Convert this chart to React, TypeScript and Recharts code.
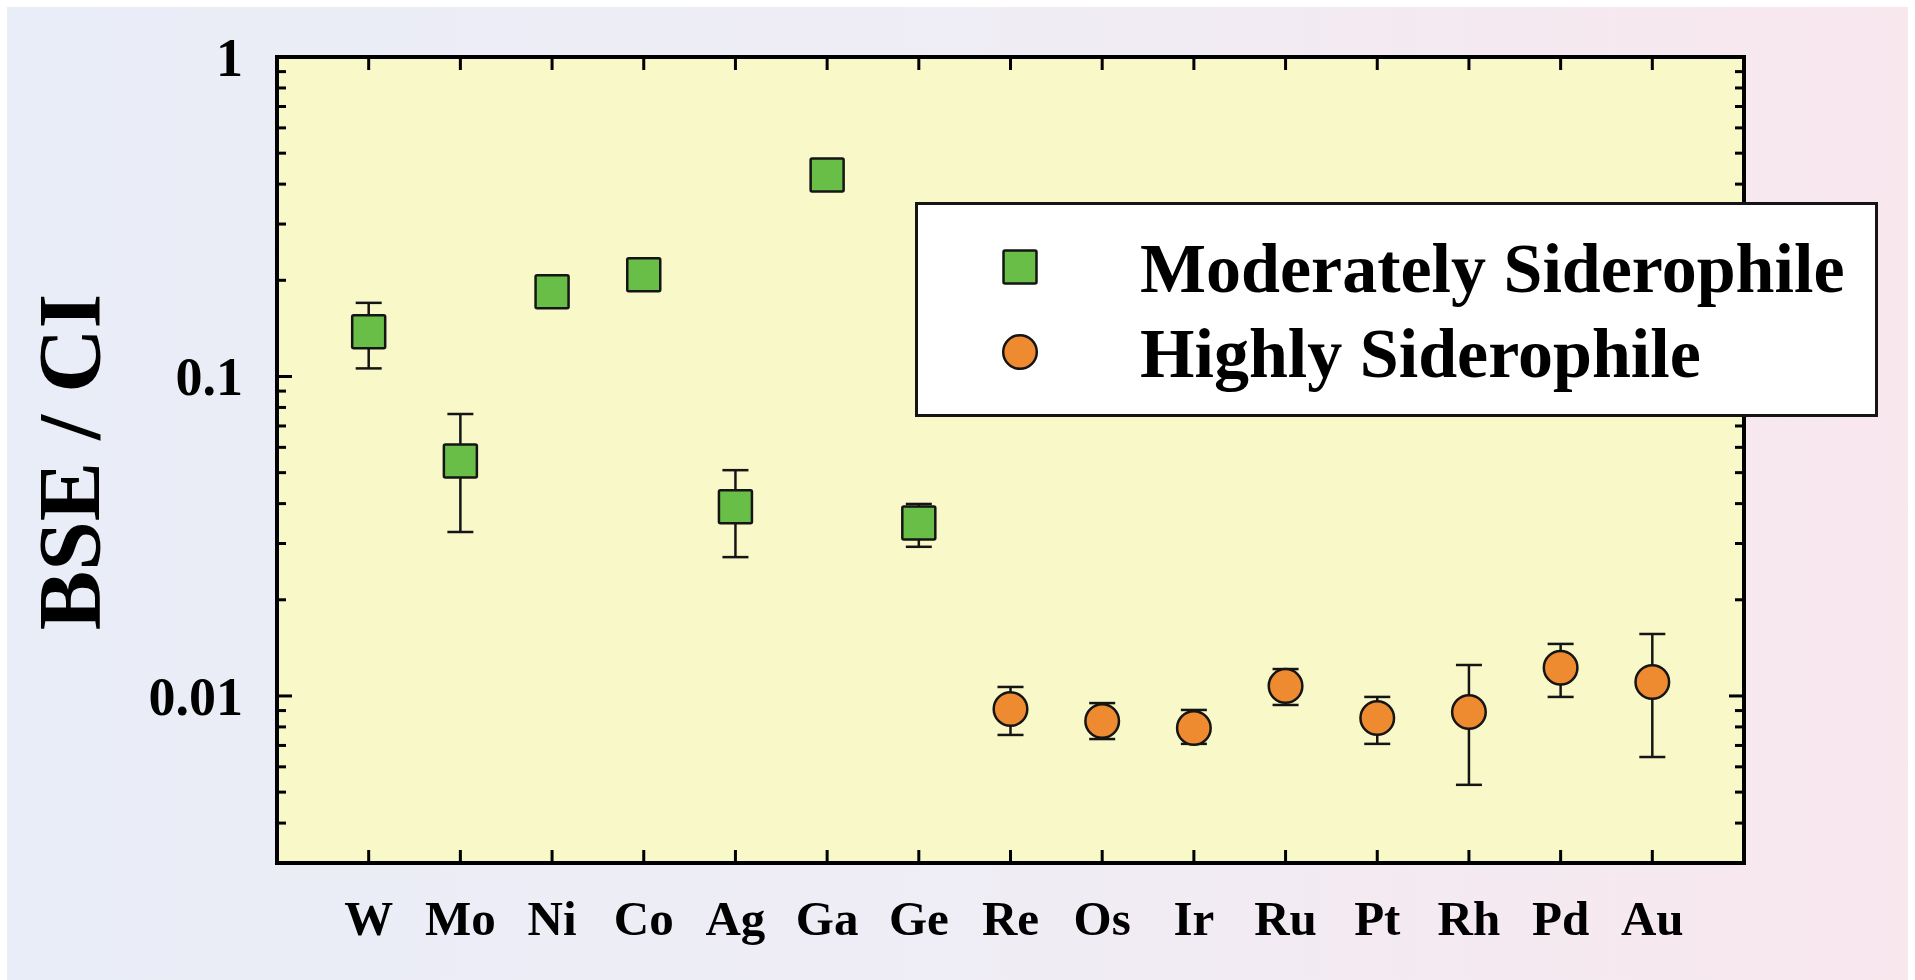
import React from 'react';
import {
    ScatterChart,
    Scatter,
    XAxis,
    YAxis,
    ErrorBar,
    CartesianGrid,
    ReferenceArea,
    Legend
} from 'recharts';

// element order on the x axis
const ELEMENTS = ['W', 'Mo', 'Ni', 'Co', 'Ag', 'Ga', 'Ge', 'Re', 'Os', 'Ir', 'Ru', 'Pt', 'Rh', 'Pd', 'Au'];

// moderately siderophile (W..Ge)
const MODERATE_VALUES = [0.138, 0.0544, 0.184, 0.208, 0.0391, 0.427, 0.0348];
const MODERATE_LOW = [0.106, 0.0326, 0.184, 0.208, 0.0272, 0.427, 0.0293];
const MODERATE_HIGH = [0.170, 0.0763, 0.184, 0.208, 0.0509, 0.427, 0.0399];

// highly siderophile (Re..Au)
const HIGHLY_VALUES = [0.0091, 0.00835, 0.00794, 0.01075, 0.00853, 0.00891, 0.01225, 0.01106];
const HIGHLY_LOW = [0.00755, 0.00733, 0.00708, 0.00937, 0.00708, 0.00527, 0.00993, 0.00644];
const HIGHLY_HIGH = [0.01067, 0.0095, 0.00904, 0.01214, 0.00993, 0.0125, 0.01455, 0.01563];

const X_TICKS = [1, 2, 3, 4, 5, 6, 7, 8, 9, 10, 11, 12, 13, 14, 15];
const Y_TICKS = [
    0.004, 0.005, 0.006, 0.007, 0.008, 0.009, 0.01,
    0.02, 0.03, 0.04, 0.05, 0.06, 0.07, 0.08, 0.09, 0.1,
    0.2, 0.3, 0.4, 0.5, 0.6, 0.7, 0.8, 0.9, 1
];
const Y_MAJOR = [0.01, 0.1, 1];
const Y_LABELS = ['0.01', '0.1', '1'];

const SERIES_NAMES = ['Moderately Siderophile', 'Highly Siderophile'];

const GREEN = '#69be48';
const ORANGE = '#ee8a30';
const EDGE = '#151515';
const PLOT_BG = '#f8f8c8';
const FONT = '"Liberation Serif", "Times New Roman", serif';

const PLOT_W = 1744 - 277;
const PLOT_H = 863 - 57;

const moderateData = MODERATE_VALUES.map((v, i) => ({
    x: i + 1,
    y: v,
    err: [v - MODERATE_LOW[i], MODERATE_HIGH[i] - v]
}));
const highlyData = HIGHLY_VALUES.map((v, i) => ({
    x: i + 1 + MODERATE_VALUES.length,
    y: v,
    err: [v - HIGHLY_LOW[i], HIGHLY_HIGH[i] - v]
}));

const SquareDot = (p: any) => (
    <rect x={p.cx - 16.5} y={p.cy - 16.5} width={33} height={33} rx={1.5}
        fill={GREEN} stroke={EDGE} strokeWidth={2.5} />
);
const CircleDot = (p: any) => (
    <circle cx={p.cx} cy={p.cy} r={16.8} fill={ORANGE} stroke={EDGE} strokeWidth={2.5} />
);

// inward ticks on bottom + top, label under the frame
const XTick = ({ x, y, payload }: any) => (
    <g>
        <line x1={x} y1={y} x2={x} y2={y - 13} stroke="#000" strokeWidth={3} />
        <line x1={x} y1={y - PLOT_H} x2={x} y2={y - PLOT_H + 13} stroke="#000" strokeWidth={3} />
        <text x={x} y={y + 72} textAnchor="middle" fontFamily={FONT} fontWeight="bold"
            fontSize={49} fill="#000">
            {ELEMENTS[payload.value - 1]}
        </text>
    </g>
);

// log ticks on left + right, labels on decades only
const YTick = ({ x, y, payload }: any) => {
    const m = Y_MAJOR.indexOf(payload.value);
    const len = m >= 0 ? 15 : 9;
    return (
        <g>
            <line x1={x} y1={y} x2={x + len} y2={y} stroke="#000" strokeWidth={3} />
            <line x1={x + PLOT_W} y1={y} x2={x + PLOT_W - len} y2={y} stroke="#000" strokeWidth={3} />
            {m >= 0 && (
                <text x={x - 34} y={y + 19} textAnchor="end" fontFamily={FONT} fontWeight="bold"
                    fontSize={54} fill="#000">
                    {Y_LABELS[m]}
                </text>
            )}
        </g>
    );
};

const YTitle = () => (
    <text transform="translate(99, 462) rotate(-90)" textAnchor="middle" fontFamily={FONT}
        fontWeight="bold" fontSize={89} fill="#000">
        BSE / CI
    </text>
);

const LegendBox = () => (
    <svg width={963} height={215} style={{ display: 'block' }}>
        <rect x={1.5} y={1.5} width={960} height={212} fill="#fff" stroke={EDGE} strokeWidth={3} />
        <rect x={88.5} y={48.5} width={33} height={33} rx={1.5} fill={GREEN} stroke={EDGE} strokeWidth={2.5} />
        <circle cx={105} cy={150} r={16.8} fill={ORANGE} stroke={EDGE} strokeWidth={2.5} />
        {SERIES_NAMES.map((name, i) => (
            <text key={name} x={225} y={90 + i * 85} fontFamily={FONT} fontWeight="bold"
                fontSize={70} fill="#000">
                {name}
            </text>
        ))}
    </svg>
);

export default function App() {
    return (
        <div style={{ position: 'absolute', left: 0, top: 0, width: 1915, height: 980, background: '#fff' }}>
            <div style={{
                position: 'absolute', left: 7, top: 7, width: 1901, height: 973,
                background: 'linear-gradient(to right, #e9edf7 0%, #efedf5 50%, #f9e7ee 100%)'
            }} />
            <div style={{ position: 'absolute', left: 0, top: 0 }}>
                <ScatterChart width={1915} height={980} margin={{ top: 57, right: 171, bottom: 0, left: 0 }}>
                    <CartesianGrid horizontal={false} vertical={false} fill={PLOT_BG} />
                    <XAxis type="number" dataKey="x" domain={[0, 16]} ticks={X_TICKS} interval={0}
                        allowDataOverflow height={117} tickSize={0} tickMargin={0}
                        axisLine={false} tickLine={false} tick={<XTick />} />
                    <YAxis type="number" dataKey="y" scale="log" domain={[0.003, 1]} ticks={Y_TICKS}
                        interval={0} allowDataOverflow width={277} tickSize={0} tickMargin={0}
                        axisLine={false} tickLine={false} tick={<YTick />} label={<YTitle />} />
                    <ReferenceArea x1={0} x2={16} y1={0.003} y2={1} fill="none" fillOpacity={0}
                        stroke="#000" strokeWidth={4} ifOverflow="visible" />
                    <Scatter name={SERIES_NAMES[0]} data={moderateData} shape={<SquareDot />}
                        isAnimationActive={false}>
                        <ErrorBar dataKey="err" direction="y" width={13} stroke={EDGE} strokeWidth={2.5} />
                    </Scatter>
                    <Scatter name={SERIES_NAMES[1]} data={highlyData} shape={<CircleDot />}
                        isAnimationActive={false}>
                        <ErrorBar dataKey="err" direction="y" width={13} stroke={EDGE} strokeWidth={2.5} />
                    </Scatter>
                    <Legend layout="vertical" align="center" verticalAlign="middle" content={<LegendBox />}
                        wrapperStyle={{ left: 915, top: 202, width: 963, height: 215 }} />
                </ScatterChart>
            </div>
        </div>
    );
}
